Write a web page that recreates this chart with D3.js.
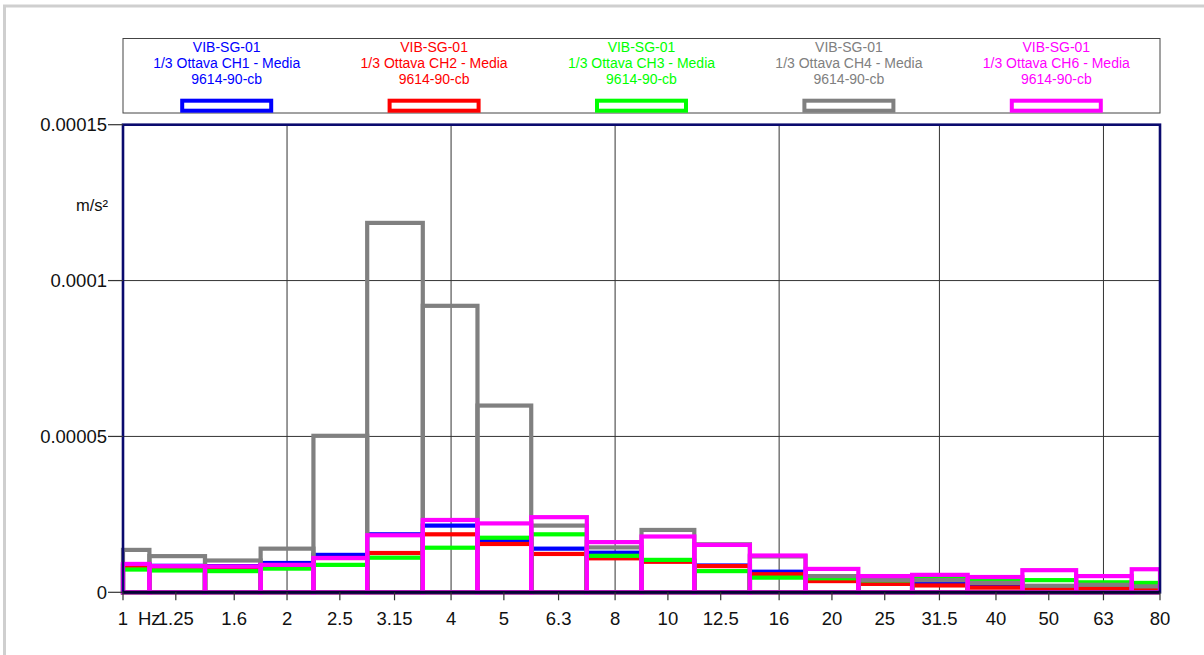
<!DOCTYPE html>
<html><head><meta charset="utf-8">
<script src="https://cdn.jsdelivr.net/npm/d3@7"></script>
<style>
body{margin:0;background:#fff;}
svg{display:block;font-family:"Liberation Sans",Arial,Helvetica,sans-serif;}
</style>
</head><body><svg id="c" width="1204" height="655"></svg>
<script>
// ---- data ----
const frequencies = [1,1.25,1.6,2,2.5,3.15,4,5,6.3,8,10,12.5,16,20,25,31.5,40,50,63,80];
const tickLabels = ["1","1.25","1.6","2","2.5","3.15","4","5","6.3","8","10","12.5","16","20","25","31.5","40","50","63","80"];
const gridFrequencies = [2,4,8,16,31.5,63];
const yTicks = [0,0.00005,0.0001,0.00015];
const yTickLabels = ["0","0.00005","0.0001","0.00015"];
const seriesTitles = ["VIB-SG-01","VIB-SG-01","VIB-SG-01","VIB-SG-01","VIB-SG-01"];
const seriesNames = ["1/3 Ottava CH1 - Media","1/3 Ottava CH2 - Media","1/3 Ottava CH3 - Media","1/3 Ottava CH4 - Media","1/3 Ottava CH6 - Media"];
const seriesSub = ["9614-90-cb","9614-90-cb","9614-90-cb","9614-90-cb","9614-90-cb"];
const seriesColors = ["#0000ff","#ff0000","#00ff00","#808080","#ff00ff"];
const ch1 = [9.0e-6,8.5e-6,8.4e-6,9.4e-6,1.20e-5,1.86e-5,2.14e-5,1.67e-5,1.40e-5,1.27e-5,1.00e-5,8.6e-6,6.6e-6,4.8e-6,3.8e-6,3.0e-6,2.0e-6,1.5e-6,1.2e-6,8e-7];
const ch2 = [8.5e-6,8.2e-6,7.9e-6,8.6e-6,1.10e-5,1.26e-5,1.86e-5,1.55e-5,1.23e-5,1.09e-5,9.8e-6,8.4e-6,5.8e-6,3.6e-6,2.7e-6,2.2e-6,1.5e-6,1.3e-6,1.3e-6,1.0e-6];
const ch3 = [7.3e-6,7.0e-6,6.8e-6,7.6e-6,8.8e-6,1.11e-5,1.43e-5,1.75e-5,1.86e-5,1.17e-5,1.04e-5,6.8e-6,4.7e-6,4.5e-6,3.8e-6,4.7e-6,3.8e-6,3.9e-6,3.2e-6,3.0e-6];
const ch4 = [1.36e-5,1.16e-5,1.02e-5,1.40e-5,5.02e-5,1.185e-4,9.19e-5,5.99e-5,2.14e-5,1.44e-5,2.00e-5,1.54e-5,1.15e-5,5.2e-6,3.9e-6,3.9e-6,3.0e-6,2.1e-6,2.4e-6,1.9e-6];
const ch6 = [9.1e-6,8.4e-6,8.3e-6,8.8e-6,1.10e-5,1.83e-5,2.32e-5,2.21e-5,2.41e-5,1.61e-5,1.79e-5,1.52e-5,1.18e-5,7.5e-6,5.2e-6,5.6e-6,4.9e-6,7.1e-6,5.2e-6,7.4e-6];
const seriesValues = [ch1,ch2,ch3,ch4,ch6];

// ---- layout ----
const L = 123, R = 1160, T = 124.7, B = 592.3;
const svg = d3.select("#c");
const x = d3.scaleLog().domain([frequencies[0], frequencies[frequencies.length-1]]).range([L, R]);
const y = d3.scaleLinear().domain([0, 0.00015]).range([B, T]);

// outer frame
svg.append("rect").attr("x",4.5).attr("y",6).attr("width",1400).attr("height",900)
  .attr("fill","none").attr("stroke","#cfcfcf").attr("stroke-width",3);

// legend box
const lg = svg.append("g");
lg.append("rect").attr("x",L).attr("y",38.5).attr("width",R-L).attr("height",74.5)
  .attr("fill","#fff").attr("stroke","#444").attr("stroke-width",1);
const colW = (R-L)/seriesNames.length;
seriesNames.forEach((n,i)=>{
  const cx = L + colW*(i+0.5);
  const c = seriesColors[i];
  [[seriesTitles[i],51.5],[n,67.5],[seriesSub[i],84]].forEach(([t,yy])=>{
    lg.append("text").attr("x",cx).attr("y",yy).attr("text-anchor","middle")
      .attr("font-size",14).attr("fill",c).text(t);
  });
  lg.append("rect").attr("x",cx-44.5).attr("y",100.7).attr("width",89).attr("height",10)
    .attr("fill","none").attr("stroke",c).attr("stroke-width",4);
});

// plot background
svg.append("rect").attr("x",L).attr("y",T).attr("width",R-L).attr("height",B-T).attr("fill","#fff");

// grid
const grid = svg.append("g");
gridFrequencies.forEach(f=>{
  grid.append("line").attr("x1",x(f)).attr("x2",x(f)).attr("y1",T).attr("y2",B)
    .attr("stroke","#333").attr("stroke-width",1);
});
yTicks.slice(1,-1).forEach(v=>{
  grid.append("line").attr("x1",L).attr("x2",R).attr("y1",y(v)).attr("y2",y(v))
    .attr("stroke","#333").attr("stroke-width",1);
});

// bars
svg.append("clipPath").attr("id","pc").append("rect").attr("x",L-3).attr("y",T).attr("width",R-L+3).attr("height",B-T+3);
const edgeLo = i => i===0 ? frequencies[0] : Math.sqrt(frequencies[i-1]*frequencies[i]);
const edgeHi = i => i===frequencies.length-1 ? frequencies[i] : Math.sqrt(frequencies[i]*frequencies[i+1]);
const bars = svg.append("g").attr("clip-path","url(#pc)");
seriesValues.forEach((vals,s)=>{
  bars.append("g").selectAll("rect").data(vals).join("rect")
    .attr("x",(d,i)=>x(edgeLo(i)))
    .attr("width",(d,i)=>x(edgeHi(i))-x(edgeLo(i)))
    .attr("y",d=>y(d))
    .attr("height",d=>y(0)-y(d))
    .attr("fill","none").attr("stroke",seriesColors[s]).attr("stroke-width",4.2);
});

// plot frame
svg.append("rect").attr("x",L).attr("y",T).attr("width",R-L).attr("height",B-T)
  .attr("fill","none").attr("stroke","#0a0a6e").attr("stroke-width",2.6);
svg.append("line").attr("x1",L).attr("x2",R).attr("y1",B).attr("y2",B).attr("stroke","#050530").attr("stroke-width",3);

// y axis ticks and labels
const ya = svg.append("g");
yTicks.forEach((v,i)=>{
  ya.append("line").attr("x1",108).attr("x2",L).attr("y1",y(v)).attr("y2",y(v)).attr("stroke","#333").attr("stroke-width",1.2);
  ya.append("text").attr("x",107).attr("y",y(v)+6.6).attr("text-anchor","end")
    .attr("font-size",18.5).attr("fill","#111").text(yTickLabels[i]);
});
ya.append("text").attr("x",108).attr("y",211).attr("text-anchor","end").attr("font-size",16.5).attr("fill","#111").text("m/s²");

// x axis ticks and labels
const xa = svg.append("g");
frequencies.forEach((f,i)=>{
  xa.append("line").attr("x1",x(f)).attr("x2",x(f)).attr("y1",B).attr("y2",B+8).attr("stroke","#333").attr("stroke-width",1.2);
  xa.append("text").attr("x",x(f)).attr("y",625).attr("text-anchor","middle")
    .attr("font-size",18.5).attr("fill","#111").text(tickLabels[i]);
});
xa.append("text").attr("x",138).attr("y",625).attr("text-anchor","start").attr("font-size",18.5).attr("fill","#111").text("Hz");
</script>
</body></html>
